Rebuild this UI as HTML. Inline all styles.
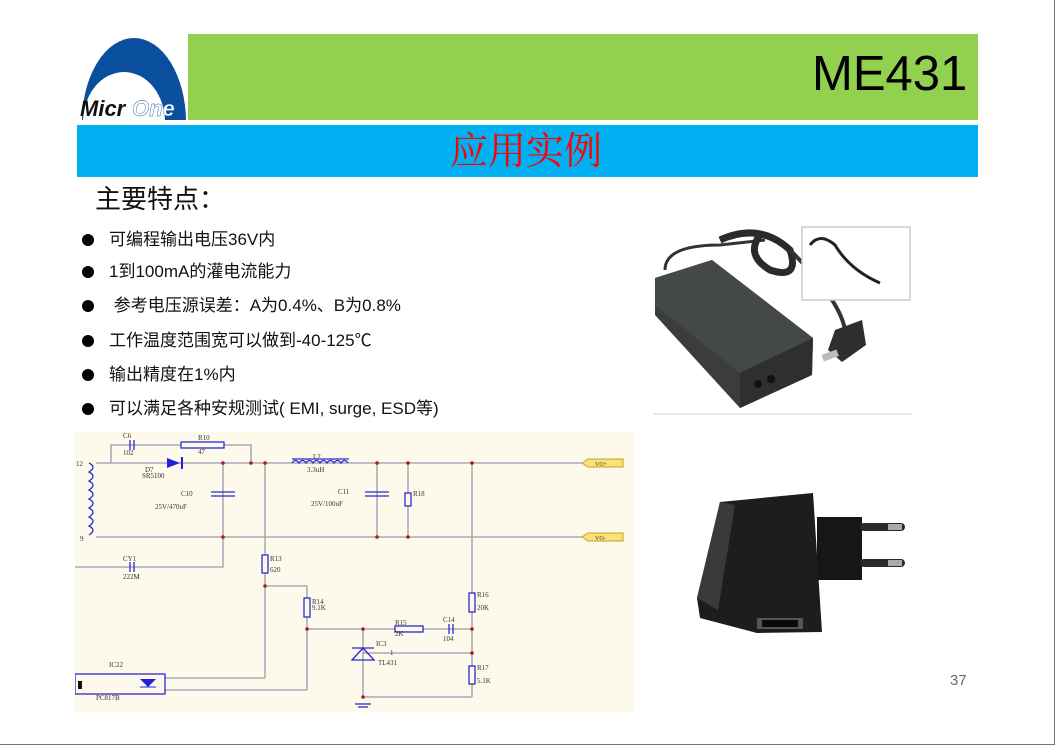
<!DOCTYPE html>
<html><head><meta charset="utf-8"><style>
html,body{margin:0;padding:0;background:#fff;width:1057px;height:748px;overflow:hidden;position:relative;font-family:"Liberation Sans","Noto Sans CJK SC",sans-serif}
.a{position:absolute}
.li{position:absolute;left:82px;font-size:17px;color:#111;white-space:nowrap;line-height:20px}
.li b{display:inline-block;width:12px;height:12px;border-radius:50%;background:#000;margin-right:15px;vertical-align:-1px}
</style></head><body>
<div class="a" style="left:1054px;top:0;width:1px;height:745px;background:#777"></div>
<div class="a" style="left:0;top:744px;width:1055px;height:1px;background:#777"></div>
<div class="a" style="left:188px;top:34px;width:790px;height:86px;background:#92d050"></div>
<div class="a" style="left:77px;top:125px;width:901px;height:52px;background:#00b0f0"></div>
<div class="a" style="left:812px;top:44px;font-size:49px;color:#000;line-height:60px">ME431</div>
<div class="a" style="left:450px;top:130px;font-family:'Liberation Serif','Noto Serif CJK SC',serif;font-size:38px;color:#f00;line-height:44px">应用实例</div>
<svg class="a" style="left:77px;top:34px" width="111" height="86" viewBox="0 0 111 86">
<ellipse cx="57" cy="88" rx="52" ry="84" fill="#0a4f9e"/>
<ellipse cx="47" cy="88" rx="41" ry="50" fill="#fff"/>
<text x="3" y="82" font-family="Liberation Sans" font-weight="bold" font-style="italic" font-size="22" fill="#111">Micr</text>
<text x="55" y="82" font-family="Liberation Sans" font-weight="bold" font-style="italic" font-size="22" fill="#fff" stroke="#0a4f9e" stroke-width="0.4">One</text>
</svg>
<div class="a" style="left:95px;top:183px;font-size:26px;color:#111;line-height:32px">主要特点：</div>
<div class="li" style="top:230px"><b></b>可编程输出电压36V内</div>
<div class="li" style="top:262px"><b></b>1到100mA的灌电流能力</div>
<div class="li" style="top:296px"><b></b> 参考电压源误差：A为0.4%、B为0.8%</div>
<div class="li" style="top:331px"><b></b>工作温度范围宽可以做到-40-125℃</div>
<div class="li" style="top:365px"><b></b>输出精度在1%内</div>
<div class="li" style="top:399px"><b></b>可以满足各种安规测试( EMI, surge, ESD等)</div>
<div class="a" style="left:950px;top:672px;font-size:15px;color:#666">37</div>

<svg class="a" style="left:75px;top:432px" width="560" height="280" viewBox="75 432 560 280" font-family="Liberation Serif" font-size="7" fill="#333">
<rect x="75" y="432" width="560" height="280" fill="#fdfaeb"/>
<g stroke="#9a9ab0" stroke-width="1.3" fill="none">
<line x1="96" y1="463" x2="582" y2="463"/><line x1="96" y1="537" x2="582" y2="537"/>
<polyline points="111,463 111,445 251,445 251,463"/>
<polyline points="75,567 223,567 223,463"/>
<line x1="265" y1="463" x2="265" y2="678"/><polyline points="265,586 307,586 307,690"/>
<line x1="307" y1="629" x2="472" y2="629"/>
<line x1="377" y1="463" x2="377" y2="537"/><line x1="408" y1="463" x2="408" y2="537"/>
<line x1="472" y1="463" x2="472" y2="697"/>
<line x1="363" y1="629" x2="363" y2="697"/><line x1="363" y1="697" x2="472" y2="697"/>
<line x1="363" y1="653" x2="472" y2="653"/>
<line x1="165" y1="678" x2="265" y2="678"/><line x1="165" y1="690" x2="307" y2="690"/>
</g>
<g stroke="#2a2ad0" stroke-width="1.3" fill="#fdfaeb">
<path d="M89 463 q8 4 0 9 q8 4 0 9 q8 4 0 9 q8 4 0 9 q8 4 0 9 q8 4 0 9 q8 4 0 9 q8 4 0 9" fill="none"/>
<path d="M292 463 q3.5 -5 7 0 q3.5 -5 7 0 q3.5 -5 7 0 q3.5 -5 7 0 q3.5 -5 7 0 q3.5 -5 7 0 q3.5 -5 7 0 q3.5 -5 7 0" fill="none"/>
<line x1="292" y1="459" x2="349" y2="459"/>
<rect x="181" y="442" width="43" height="6"/>
<rect x="262" y="555" width="6" height="18"/><rect x="304" y="598" width="6" height="19"/>
<rect x="405" y="493" width="6" height="13"/><rect x="469" y="593" width="6" height="19"/><rect x="469" y="666" width="6" height="18"/>
<rect x="395" y="626" width="28" height="6"/>
<line x1="130" y1="440" x2="130" y2="450"/><line x1="134" y1="440" x2="134" y2="450"/>
<line x1="130" y1="562" x2="130" y2="572"/><line x1="134" y1="562" x2="134" y2="572"/>
<line x1="449" y1="624" x2="449" y2="634"/><line x1="453" y1="624" x2="453" y2="634"/>
<line x1="211" y1="492" x2="235" y2="492"/><line x1="211" y1="496" x2="235" y2="496"/>
<line x1="365" y1="492" x2="389" y2="492"/><line x1="365" y1="496" x2="389" y2="496"/>
<polygon points="352,660 374,660 363,648" fill="none"/><line x1="352" y1="648" x2="374" y2="648"/>
<rect x="75" y="674" width="90" height="20" fill="none"/>
<line x1="355" y1="704" x2="371" y2="704"/><line x1="358" y1="707" x2="368" y2="707"/>
</g>
<polygon points="167,458 167,468 180,463" fill="#2020e0"/><line x1="182" y1="457" x2="182" y2="469" stroke="#2020e0" stroke-width="2"/>
<polygon points="140,679 156,679 148,687" fill="#2020e0"/><line x1="140" y1="687" x2="156" y2="687" stroke="#2020e0"/>
<rect x="78" y="681" width="4" height="8" fill="#111"/>
<g fill="#a02020"><circle cx="223" cy="463" r="1.8"/><circle cx="251" cy="463" r="1.8"/><circle cx="265" cy="463" r="1.8"/><circle cx="377" cy="463" r="1.8"/><circle cx="408" cy="463" r="1.8"/><circle cx="472" cy="463" r="1.8"/><circle cx="223" cy="537" r="1.8"/><circle cx="377" cy="537" r="1.8"/><circle cx="408" cy="537" r="1.8"/><circle cx="265" cy="586" r="1.8"/><circle cx="307" cy="629" r="1.8"/><circle cx="363" cy="629" r="1.8"/><circle cx="472" cy="629" r="1.8"/><circle cx="472" cy="653" r="1.8"/><circle cx="363" cy="697" r="1.8"/></g>
<polygon points="582,463 588,459 623,459 623,467 588,467" fill="#f8e27a" stroke="#c9a020"/>
<polygon points="582,537 588,533 623,533 623,541 588,541" fill="#f8e27a" stroke="#c9a020"/>
<text x="595" y="466" font-size="6">VO+</text><text x="595" y="540" font-size="6">VO-</text>
<text x="123" y="438">C6</text><text x="123" y="455">102</text><text x="198" y="440">R10</text><text x="198" y="454">47</text>
<text x="76" y="466">12</text><text x="80" y="541">9</text>
<text x="145" y="472">D7</text><text x="142" y="478">SR5100</text>
<text x="181" y="496">C10</text><text x="155" y="509">25V/470uF</text>
<text x="313" y="459">L2</text><text x="307" y="472">3.3uH</text>
<text x="338" y="494">C11</text><text x="311" y="506">25V/100uF</text><text x="413" y="496">R18</text>
<text x="123" y="561">CY1</text><text x="123" y="579">222M</text>
<text x="270" y="561">R13</text><text x="270" y="572">620</text>
<text x="312" y="604">R14</text><text x="312" y="610">9.1K</text>
<text x="395" y="625">R15</text><text x="395" y="636">2K</text><text x="443" y="622">C14</text><text x="443" y="641">104</text>
<text x="376" y="646">IC3</text><text x="390" y="655">1</text><text x="378" y="665">TL431</text>
<text x="477" y="597">R16</text><text x="477" y="610">20K</text><text x="477" y="670">R17</text><text x="477" y="683">5.1K</text>
<text x="109" y="667">IC22</text><text x="96" y="700">PC817B</text>
</svg>

<svg class="a" style="left:640px;top:215px" width="290" height="440" viewBox="640 215 290 440">
<line x1="654" y1="414" x2="912" y2="414" stroke="#e8e8e8" stroke-width="2"/>
<path d="M665 270 Q665 245 720 245 L765 240" stroke="#333" stroke-width="3" fill="none"/>
<path d="M720 240 Q760 222 790 250 Q800 280 770 270 Q745 255 760 235" stroke="#2a2a2a" stroke-width="7" fill="none"/>
<path d="M790 250 Q840 300 845 330" stroke="#333" stroke-width="4" fill="none"/>
<polygon points="835,330 862,320 866,345 842,362 828,350" fill="#2e2e2e"/>
<rect x="822" y="352" width="16" height="7" fill="#bbb" transform="rotate(-20 830 355)"/>
<rect x="802" y="227" width="108" height="73" fill="#fff" stroke="#ccc" stroke-width="1.5"/>
<path d="M810 245 Q820 232 835 245 Q850 270 880 283" stroke="#222" stroke-width="3" fill="none"/>
<polygon points="655,278 712,260 813,338 812,375 740,408 655,315" fill="#3a3d3b"/>
<polygon points="655,278 712,260 813,338 740,373 655,305" fill="#444846"/>
<polygon points="740,373 813,338 812,375 740,408" fill="#2d302e"/>
<circle cx="758" cy="384" r="4" fill="#111"/><circle cx="771" cy="379" r="4" fill="#111"/>
<polygon points="720,502 813,493 822,632 757,633 700,618 697,598" fill="#1d1d1d"/>
<polygon points="697,598 720,502 735,505 718,610" fill="#3a3a3a"/>
<rect x="817" y="517" width="45" height="63" fill="#161616"/>
<rect x="860" y="523" width="45" height="8" rx="4" fill="#2a2a2a"/><rect x="860" y="559" width="45" height="8" rx="4" fill="#2a2a2a"/>
<rect x="888" y="524" width="14" height="6" fill="#aaa"/><rect x="888" y="560" width="14" height="6" fill="#aaa"/>
<rect x="757" y="618" width="46" height="11" fill="#555"/><rect x="762" y="620" width="36" height="7" fill="#0a0a0a"/>
</svg>
</body></html>
